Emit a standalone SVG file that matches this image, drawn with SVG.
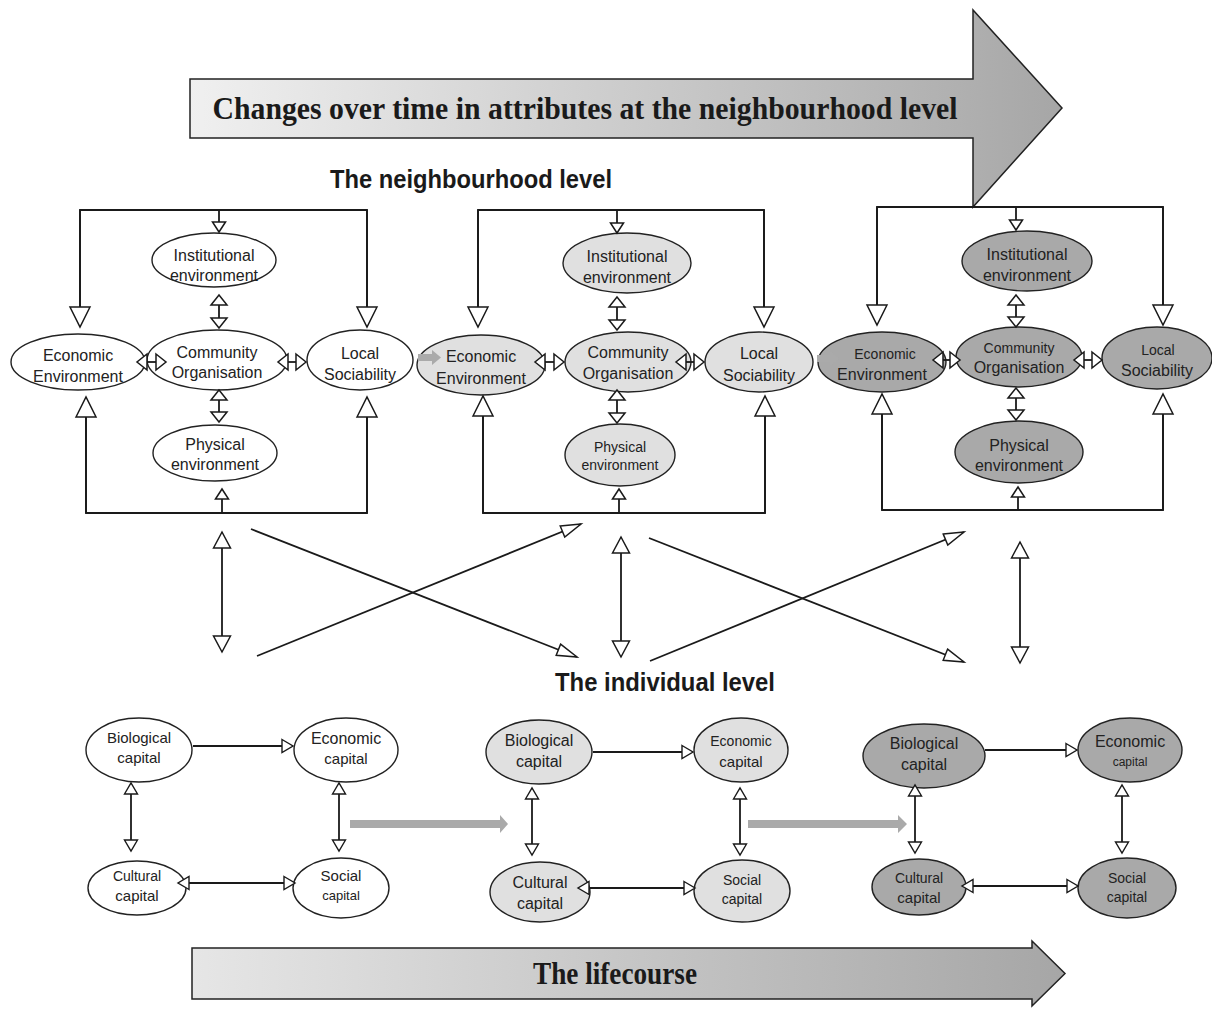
<svg xmlns="http://www.w3.org/2000/svg" width="1212" height="1012" viewBox="0 0 1212 1012">
<style>
  .bg{fill:#ffffff}
  .n0{fill:#ffffff;stroke:#222;stroke-width:1.4}
  .n1{fill:#e0e0e0;stroke:#222;stroke-width:1.4}
  .n2{fill:#a9a9a9;stroke:#222;stroke-width:1.4}
  .t{font-family:"Liberation Sans",Arial,sans-serif;fill:#222;text-anchor:middle}
  .ln{fill:none;stroke:#1a1a1a;stroke-width:1.8}
  .big{marker-end:url(#big)}
  .sm2{marker-start:url(#sm);marker-end:url(#sm)}
  .xs{marker-end:url(#xs)}
  .med2{marker-start:url(#med);marker-end:url(#med)}
  .diag{marker-end:url(#diag)}
  .cap{marker-end:url(#cap)}
  .cap2{marker-start:url(#cap);marker-end:url(#cap)}
  .gray{fill:#aaaaaa;stroke:none}
  .band{stroke:#222;stroke-width:1.5}
  .serif{font-family:"Liberation Serif","Times New Roman",serif;font-weight:bold;fill:#1a1a1a;text-anchor:middle}
  .head{font-family:"Liberation Sans",Arial,sans-serif;font-weight:bold;fill:#1a1a1a;text-anchor:middle}
</style>
<defs>
  <linearGradient id="g1" gradientUnits="userSpaceOnUse" x1="190" y1="0" x2="1063" y2="0">
    <stop offset="0" stop-color="#f0f0f0"/>
    <stop offset="0.88" stop-color="#b0b0b0"/>
    <stop offset="1" stop-color="#a6a6a6"/>
  </linearGradient>
  <linearGradient id="g2" gradientUnits="userSpaceOnUse" x1="192" y1="0" x2="1065" y2="0">
    <stop offset="0" stop-color="#e6e6e6"/>
    <stop offset="1" stop-color="#a6a6a6"/>
  </linearGradient>
  <marker id="big" markerUnits="userSpaceOnUse" orient="auto-start-reverse" refX="0" refY="0" markerWidth="1" markerHeight="1" overflow="visible">
    <path d="M-20,-10 L0,0 L-20,10 Z" fill="#fff" stroke="#1a1a1a" stroke-width="1.5"/>
  </marker>
  <marker id="sm" markerUnits="userSpaceOnUse" orient="auto-start-reverse" refX="0" refY="0" markerWidth="1" markerHeight="1" overflow="visible">
    <path d="M-10,-8 L0,0 L-10,8 Z" fill="#fff" stroke="#1a1a1a" stroke-width="1.5"/>
  </marker>
  <marker id="xs" markerUnits="userSpaceOnUse" orient="auto-start-reverse" refX="0" refY="0" markerWidth="1" markerHeight="1" overflow="visible">
    <path d="M-10,-6.5 L0,0 L-10,6.5 Z" fill="#fff" stroke="#1a1a1a" stroke-width="1.5"/>
  </marker>
  <marker id="med" markerUnits="userSpaceOnUse" orient="auto-start-reverse" refX="0" refY="0" markerWidth="1" markerHeight="1" overflow="visible">
    <path d="M-16,-8.5 L0,0 L-16,8.5 Z" fill="#fff" stroke="#1a1a1a" stroke-width="1.5"/>
  </marker>
  <marker id="diag" markerUnits="userSpaceOnUse" orient="auto-start-reverse" refX="0" refY="0" markerWidth="1" markerHeight="1" overflow="visible">
    <path d="M-20,-6 L0,0 L-20,6 Z" fill="#fff" stroke="#1a1a1a" stroke-width="1.5"/>
  </marker>
  <marker id="cap" markerUnits="userSpaceOnUse" orient="auto-start-reverse" refX="0" refY="0" markerWidth="1" markerHeight="1" overflow="visible">
    <path d="M-11,-6.5 L0,0 L-11,6.5 Z" fill="#fff" stroke="#1a1a1a" stroke-width="1.4"/>
  </marker>
</defs>
<rect class="bg" x="0" y="0" width="1212" height="1012"/>

<g id="time-arrow">
  <polygon class="band" fill="url(#g1)" points="190,79 973,79 973,10 1062,108 973,207 973,138 190,138"/>
  <text class="serif" x="585" y="119" font-size="32" textLength="745" lengthAdjust="spacingAndGlyphs">Changes over time in attributes at the neighbourhood level</text>
</g>
<g id="lifecourse-arrow">
  <polygon class="band" fill="url(#g2)" points="192,948 1032,948 1032,941 1065,973.5 1032,1006 1032,999 192,999"/>
  <text class="serif" x="615" y="984" font-size="32" textLength="164" lengthAdjust="spacingAndGlyphs">The lifecourse</text>
</g>
<g id="labels">
  <text class="head" x="471" y="188" font-size="25" textLength="282" lengthAdjust="spacingAndGlyphs">The neighbourhood level</text>
  <text class="head" x="665" y="691" font-size="25" textLength="220" lengthAdjust="spacingAndGlyphs">The individual level</text>
</g>

<!-- Neighbourhood cluster 1 -->
<g id="n1-institutional"><ellipse class="n0" cx="214" cy="260" rx="62" ry="27"/><text class="t" font-size="16" x="214" y="261">Institutional</text><text class="t" font-size="16" x="214" y="281">environment</text></g>
<g id="n1-community"><ellipse class="n0" cx="217" cy="360" rx="70" ry="30"/><text class="t" font-size="16" x="217" y="358">Community</text><text class="t" font-size="16" x="217" y="378">Organisation</text></g>
<g id="n1-economic"><ellipse class="n0" cx="78" cy="362" rx="67" ry="28"/><text class="t" font-size="16" x="78" y="361">Economic</text><text class="t" font-size="16" x="78" y="382">Environment</text></g>
<g id="n1-local"><ellipse class="n0" cx="360" cy="360" rx="53" ry="30"/><text class="t" font-size="16" x="360" y="359">Local</text><text class="t" font-size="16" x="360" y="380">Sociability</text></g>
<g id="n1-physical"><ellipse class="n0" cx="215" cy="453" rx="62" ry="28"/><text class="t" font-size="16" x="215" y="450">Physical</text><text class="t" font-size="16" x="215" y="470">environment</text></g>

<!-- Neighbourhood cluster 2 -->
<g id="n2-institutional"><ellipse class="n1" cx="627" cy="263" rx="64" ry="30"/><text class="t" font-size="16" x="627" y="262">Institutional</text><text class="t" font-size="16" x="627" y="283">environment</text></g>
<g id="n2-community"><ellipse class="n1" cx="628" cy="362" rx="63" ry="30"/><text class="t" font-size="16" x="628" y="358">Community</text><text class="t" font-size="16" x="628" y="379">Organisation</text></g>
<g id="n2-economic"><ellipse class="n1" cx="481" cy="365" rx="64" ry="30"/><text class="t" font-size="16" x="481" y="362">Economic</text><text class="t" font-size="16" x="481" y="384">Environment</text></g>
<g id="n2-local"><ellipse class="n1" cx="759" cy="362" rx="54" ry="30"/><text class="t" font-size="16" x="759" y="359">Local</text><text class="t" font-size="16" x="759" y="381">Sociability</text></g>
<g id="n2-physical"><ellipse class="n1" cx="620" cy="455" rx="55" ry="31"/><text class="t" font-size="14" x="620" y="452">Physical</text><text class="t" font-size="14" x="620" y="470">environment</text></g>

<!-- Neighbourhood cluster 3 -->
<g id="n3-institutional"><ellipse class="n2" cx="1027" cy="261" rx="65" ry="30"/><text class="t" font-size="16" x="1027" y="260">Institutional</text><text class="t" font-size="16" x="1027" y="281">environment</text></g>
<g id="n3-community"><ellipse class="n2" cx="1019" cy="357" rx="63" ry="30"/><text class="t" font-size="14" x="1019" y="353">Community</text><text class="t" font-size="16" x="1019" y="373">Organisation</text></g>
<g id="n3-economic"><ellipse class="n2" cx="882" cy="362" rx="64" ry="30"/><text class="t" font-size="14" x="885" y="359">Economic</text><text class="t" font-size="16" x="882" y="380">Environment</text></g>
<g id="n3-local"><ellipse class="n2" cx="1157" cy="358" rx="55" ry="31"/><text class="t" font-size="14" x="1158" y="355">Local</text><text class="t" font-size="16" x="1157" y="376">Sociability</text></g>
<g id="n3-physical"><ellipse class="n2" cx="1019" cy="452" rx="64" ry="31"/><text class="t" font-size="16" x="1019" y="451">Physical</text><text class="t" font-size="16" x="1019" y="471">environment</text></g>

<!-- Individual cluster A -->
<g id="i1-biological"><ellipse class="n0" cx="139" cy="750" rx="53" ry="32"/><text class="t" font-size="15" x="139" y="743">Biological</text><text class="t" font-size="15" x="139" y="763">capital</text></g>
<g id="i1-economic"><ellipse class="n0" cx="346" cy="750" rx="52" ry="32"/><text class="t" font-size="16" x="346" y="744">Economic</text><text class="t" font-size="15" x="346" y="764">capital</text></g>
<g id="i1-cultural"><ellipse class="n0" cx="137" cy="888" rx="49" ry="27"/><text class="t" font-size="14" x="137" y="881">Cultural</text><text class="t" font-size="15" x="137" y="901">capital</text></g>
<g id="i1-social"><ellipse class="n0" cx="341" cy="888" rx="48" ry="30"/><text class="t" font-size="15" x="341" y="881">Social</text><text class="t" font-size="13" x="341" y="900">capital</text></g>

<!-- Individual cluster B -->
<g id="i2-biological"><ellipse class="n1" cx="539" cy="752" rx="53" ry="32"/><text class="t" font-size="16" x="539" y="746">Biological</text><text class="t" font-size="16" x="539" y="767">capital</text></g>
<g id="i2-economic"><ellipse class="n1" cx="741" cy="750" rx="47" ry="32"/><text class="t" font-size="14" x="741" y="746">Economic</text><text class="t" font-size="15" x="741" y="767">capital</text></g>
<g id="i2-cultural"><ellipse class="n1" cx="540" cy="892" rx="50" ry="30"/><text class="t" font-size="16" x="540" y="888">Cultural</text><text class="t" font-size="16" x="540" y="909">capital</text></g>
<g id="i2-social"><ellipse class="n1" cx="742" cy="891" rx="48" ry="31"/><text class="t" font-size="14" x="742" y="885">Social</text><text class="t" font-size="14" x="742" y="904">capital</text></g>

<!-- Individual cluster C -->
<g id="i3-biological"><ellipse class="n2" cx="924" cy="756" rx="61" ry="32"/><text class="t" font-size="16" x="924" y="749">Biological</text><text class="t" font-size="16" x="924" y="770">capital</text></g>
<g id="i3-economic"><ellipse class="n2" cx="1130" cy="750" rx="52" ry="32"/><text class="t" font-size="16" x="1130" y="747">Economic</text><text class="t" font-size="12" x="1130" y="766">capital</text></g>
<g id="i3-cultural"><ellipse class="n2" cx="919" cy="887" rx="47" ry="28"/><text class="t" font-size="14" x="919" y="883">Cultural</text><text class="t" font-size="15" x="919" y="903">capital</text></g>
<g id="i3-social"><ellipse class="n2" cx="1127" cy="888" rx="49" ry="30"/><text class="t" font-size="14" x="1127" y="883">Social</text><text class="t" font-size="14" x="1127" y="902">capital</text></g>

<g id="connectors">
  <!-- cluster 1 frame -->
  <path class="ln" d="M80,327 V210 H367 V327"/>
  <path class="ln big" d="M80,210 V327"/>
  <path class="ln big" d="M367,210 V327"/>
  <path class="ln xs" d="M219,210 V232"/>
  <path class="ln" d="M86,397 V513 H367 V397"/>
  <path class="ln big" d="M86,513 V397"/>
  <path class="ln big" d="M367,513 V397"/>
  <path class="ln xs" d="M222,513 V489"/>
  <path class="ln sm2" d="M219,295 V328"/>
  <path class="ln sm2" d="M137,362 H166"/>
  <path class="ln sm2" d="M278,362 H306"/>
  <path class="ln sm2" d="M219,390 V422"/>
  <!-- cluster 2 frame -->
  <path class="ln" d="M478,327 V210 H764 V327"/>
  <path class="ln big" d="M478,210 V327"/>
  <path class="ln big" d="M764,210 V327"/>
  <path class="ln xs" d="M617,210 V233"/>
  <path class="ln" d="M483,396 V513 H765 V396"/>
  <path class="ln big" d="M483,513 V396"/>
  <path class="ln big" d="M765,513 V396"/>
  <path class="ln xs" d="M619,513 V489"/>
  <path class="ln sm2" d="M617,297 V330"/>
  <path class="ln sm2" d="M535,362 H564"/>
  <path class="ln sm2" d="M676,362 H704"/>
  <path class="ln sm2" d="M617,390 V423"/>
  <!-- cluster 3 frame -->
  <path class="ln" d="M877,325 V207 H1163 V325"/>
  <path class="ln big" d="M877,207 V325"/>
  <path class="ln big" d="M1163,207 V325"/>
  <path class="ln xs" d="M1016,207 V230"/>
  <path class="ln" d="M882,394 V510 H1163 V394"/>
  <path class="ln big" d="M882,510 V394"/>
  <path class="ln big" d="M1163,510 V394"/>
  <path class="ln xs" d="M1018,510 V487"/>
  <path class="ln sm2" d="M1016,295 V327"/>
  <path class="ln sm2" d="M933,360 H960"/>
  <path class="ln sm2" d="M1074,360 H1102"/>
  <path class="ln sm2" d="M1016,388 V420"/>
  <!-- gray transitions -->
  <polygon class="gray" points="418,354 432,354 432,350 441,357.5 432,365 432,361 418,361"/>
  <polygon class="gray" points="817,355 830,355 830,351 839,358.5 830,366 830,362 817,362"/>
  <polygon class="gray" points="350,820 500,820 500,815 508,824 500,833 500,828 350,828"/>
  <polygon class="gray" points="748,820 898,820 898,815 907,824 898,833 898,828 748,828"/>
  <!-- cross-level -->
  <path class="ln med2" d="M222,532 V652"/>
  <path class="ln diag" d="M251,529 L577,657"/>
  <path class="ln diag" d="M257,656 L581,524"/>
  <path class="ln med2" d="M621,537 V657"/>
  <path class="ln diag" d="M649,538 L964,662"/>
  <path class="ln diag" d="M650,661 L964,532"/>
  <path class="ln med2" d="M1020,542 V663"/>
  <!-- individual A -->
  <path class="ln cap" d="M193,746 H293"/>
  <path class="ln cap2" d="M131,783 V851"/>
  <path class="ln cap2" d="M339,783 V851"/>
  <path class="ln cap2" d="M178,883 H295"/>
  <!-- individual B -->
  <path class="ln cap" d="M593,752 H693"/>
  <path class="ln cap2" d="M532,788 V855"/>
  <path class="ln cap2" d="M740,788 V855"/>
  <path class="ln cap2" d="M578,888 H695"/>
  <!-- individual C -->
  <path class="ln cap" d="M985,750 H1077"/>
  <path class="ln cap2" d="M915,785 V853"/>
  <path class="ln cap2" d="M1122,785 V853"/>
  <path class="ln cap2" d="M962,886 H1078"/>
</g>
</svg>
